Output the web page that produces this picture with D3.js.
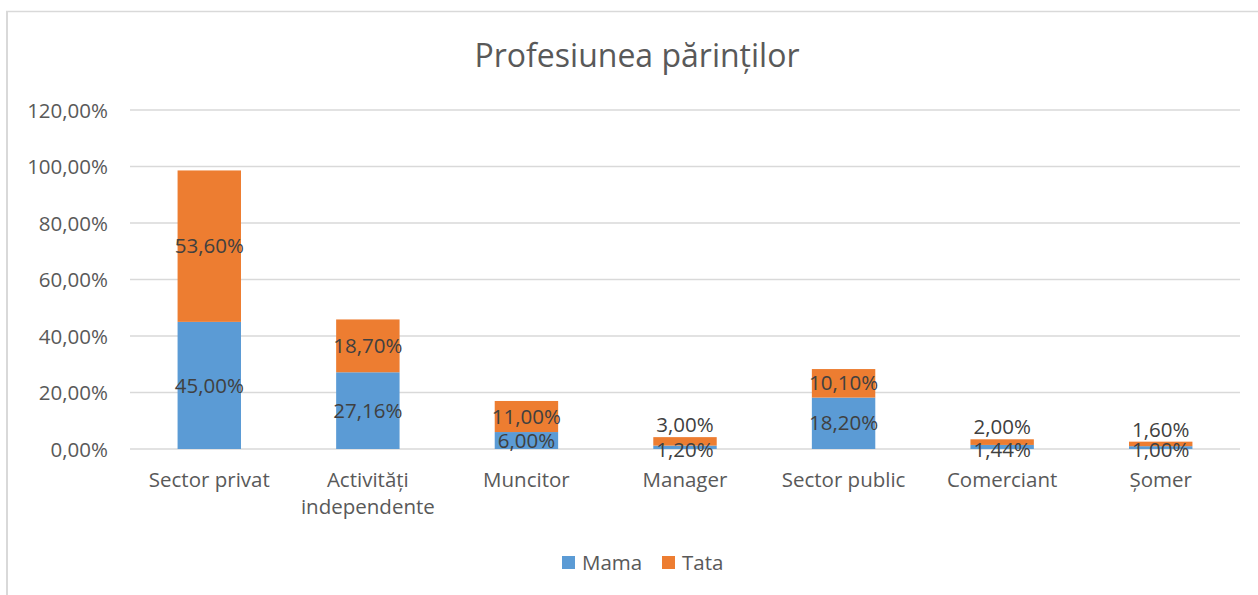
<!DOCTYPE html>
<html>
<head>
<meta charset="utf-8">
<script src="https://cdn.jsdelivr.net/npm/d3@7"></script>
<style>
  html, body { margin: 0; padding: 0; background: #fff; }
  svg { display: block; font-family: "Open Sans", "Noto Sans", sans-serif; }
</style>
</head>
<body>
<svg id="chart" width="1258" height="595"></svg>
<script>
// Parents' occupations, share of respondents (percent)
const categories = ["Sector privat", "Activități independente", "Muncitor", "Manager", "Sector public", "Comerciant", "Șomer"];
const categoryLines = [["Sector privat"], ["Activități", "independente"], ["Muncitor"], ["Manager"], ["Sector public"], ["Comerciant"], ["Șomer"]];
const mama = [45.00, 27.16, 6.00, 1.20, 18.20, 1.44, 1.00];
const tata = [53.60, 18.70, 11.00, 3.00, 10.10, 2.00, 1.60];
const seriesNames = ["Mama", "Tata"];
const seriesColors = ["#5b9bd5", "#ed7d31"];
const yTicks = [0, 20, 40, 60, 80, 100, 120];
const title = "Profesiunea părinților";

const svg = d3.select("#chart");
const W = 1258, H = 595;
const plot = { left: 130, right: 1240, top: 110, bottom: 449 };
const FS = 20.5;

const fmt = v => d3.format(".2f")(v).replace(".", ",") + "%";

// chart frame (left and top edges)
svg.append("line").attr("x1", 7).attr("x2", 7).attr("y1", 11).attr("y2", H)
  .attr("stroke", "#d9d9d9").attr("stroke-width", 2);
svg.append("line").attr("x1", 6).attr("x2", W).attr("y1", 11.5).attr("y2", 11.5)
  .attr("stroke", "#d9d9d9").attr("stroke-width", 1.5);

const x = d3.scaleBand().domain(categories)
  .range([plot.left, plot.right]).paddingInner(0.6).paddingOuter(0.3);
const y = d3.scaleLinear().domain([0, 120]).range([plot.bottom, plot.top]);

// title
svg.append("text").attr("x", 637).attr("y", 67).attr("text-anchor", "middle")
  .attr("font-size", 32).attr("fill", "#595959").text(title);

// gridlines
svg.append("g").selectAll("line").data(yTicks).join("line")
  .attr("x1", plot.left).attr("x2", plot.right)
  .attr("y1", d => y(d)).attr("y2", d => y(d))
  .attr("stroke", "#d9d9d9").attr("stroke-width", 1.5);

// y axis labels
const yAxis = d3.axisLeft(y).tickValues(yTicks).tickFormat(fmt).tickSize(0).tickPadding(0);
const gy = svg.append("g").attr("transform", `translate(${plot.left - 22},0)`).call(yAxis);
gy.select(".domain").remove();
gy.selectAll("text").attr("font-size", FS).attr("fill", "#595959")
  .attr("font-family", "'Open Sans', sans-serif").attr("dy", "0.35em");

// stacked bars
const rows = categories.map((c, i) => ({ cat: c, Mama: mama[i], Tata: tata[i] }));
const stack = d3.stack().keys(seriesNames)(rows);

const layers = svg.append("g").selectAll("g").data(stack).join("g")
  .attr("fill", (d, i) => seriesColors[i]);
layers.selectAll("rect").data(d => d).join("rect")
  .attr("x", d => x(d.data.cat))
  .attr("width", x.bandwidth())
  .attr("y", d => y(d[1]))
  .attr("height", d => y(d[0]) - y(d[1]));

// value labels centred in each segment
const labels = svg.append("g");
stack.forEach(layer => {
  labels.selectAll(null).data(layer).join("text")
    .attr("x", d => x(d.data.cat) + x.bandwidth() / 2)
    .attr("y", d => {
      const mid = (y(d[0]) + y(d[1])) / 2;
      const h = y(d[0]) - y(d[1]);
      // thin segments: spread the two labels above and on the baseline
      if (h < 14) return layer.key === "Mama" ? y(d[0]) + 1 : y(d[1]) - 12;
      return mid;
    })
    .attr("dy", "0.35em").attr("text-anchor", "middle")
    .attr("font-size", FS).attr("fill", "#404040")
    .text(d => fmt(d.data[layer.key]));
});

// category labels
const gx = svg.append("g");
categoryLines.forEach((lines, i) => {
  const cx = x(categories[i]) + x.bandwidth() / 2;
  const t = gx.append("text").attr("x", cx)
    .attr("y", 487).attr("text-anchor", "middle")
    .attr("font-size", FS).attr("fill", "#595959");
  lines.forEach((ln, j) => t.append("tspan")
    .attr("x", cx).attr("dy", j === 0 ? 0 : 27).text(ln));
});

// legend
const legend = svg.append("g").attr("transform", "translate(562,556)");
const items = [{ n: seriesNames[0], c: seriesColors[0], dx: 0 }, { n: seriesNames[1], c: seriesColors[1], dx: 100 }];
items.forEach(it => {
  legend.append("rect").attr("x", it.dx).attr("y", 0).attr("width", 13).attr("height", 13).attr("fill", it.c);
  legend.append("text").attr("x", it.dx + 20).attr("y", 6.5).attr("dy", "0.35em")
    .attr("font-size", FS).attr("fill", "#595959").text(it.n);
});
</script>
</body>
</html>
